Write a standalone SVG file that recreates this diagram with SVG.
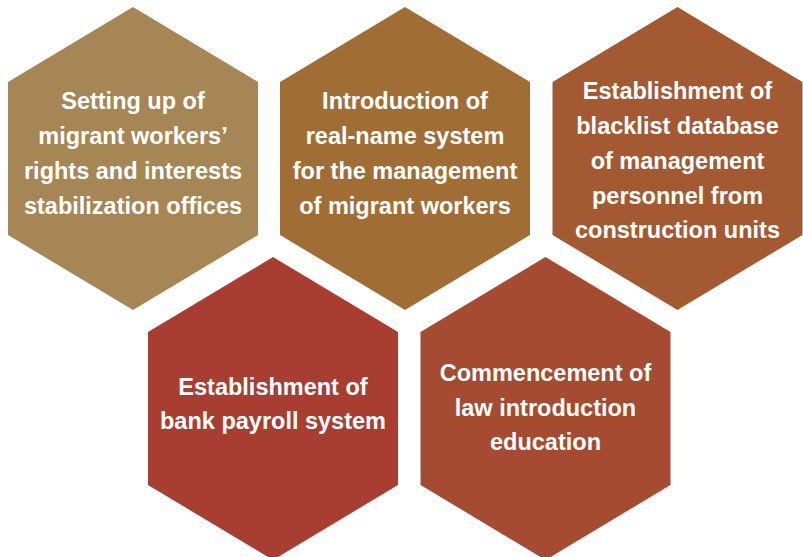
<svg xmlns="http://www.w3.org/2000/svg" width="803" height="557" viewBox="0 0 803 557">
<style>
.t{font-family:"Liberation Sans",Arial,sans-serif;font-weight:bold;font-size:23.5px;fill:#fff;text-anchor:middle}
</style>
<defs>
<polygon id="hx" points="0,0 125,75 125,228 0,303 -125,228 -125,75"/>
</defs>
<rect width="803" height="557" fill="#fff"/>
<g id="n1">
<use href="#hx" x="133" y="7" fill="#A68654"/>
<text class="t" x="133" y="109">Setting up of</text>
<text class="t" x="133" y="144">migrant workers’</text>
<text class="t" x="133" y="179">rights and interests</text>
<text class="t" x="133" y="214">stabilization offices</text>
</g>
<g id="n2">
<use href="#hx" x="405" y="7" fill="#A06E35"/>
<text class="t" x="405" y="109">Introduction of</text>
<text class="t" x="405" y="144">real-name system</text>
<text class="t" x="405" y="179">for the management</text>
<text class="t" x="405" y="214">of migrant workers</text>
</g>
<g id="n3">
<use href="#hx" x="677.5" y="7" fill="#A35A33"/>
<text class="t" x="677.5" y="99">Establishment of</text>
<text class="t" x="677.5" y="134">blacklist database</text>
<text class="t" x="677.5" y="169">of management</text>
<text class="t" x="677.5" y="204">personnel from</text>
<text class="t" x="677.5" y="238">construction units</text>
</g>
<g id="n4">
<use href="#hx" x="273" y="257" fill="#A83D31"/>
<text class="t" x="273" y="395">Establishment of</text>
<text class="t" x="273" y="429">bank payroll system</text>
</g>
<g id="n5">
<use href="#hx" x="545.5" y="257" fill="#A44B31"/>
<text class="t" x="545.5" y="381">Commencement of</text>
<text class="t" x="545.5" y="416">law introduction</text>
<text class="t" x="545.5" y="450">education</text>
</g>
<g id="connectors"/>
</svg>
